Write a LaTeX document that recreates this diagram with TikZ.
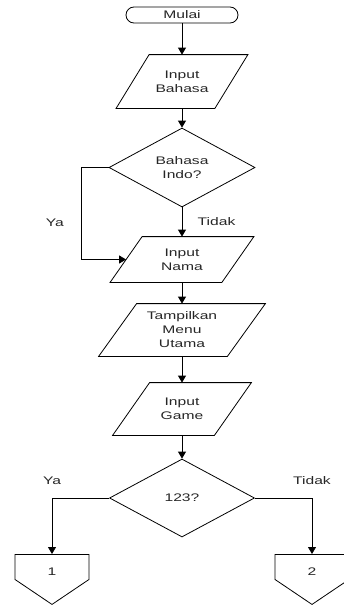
\documentclass[tikz,border=0pt]{standalone}
\usepackage{fontspec}
\setmainfont{Liberation Sans}[FakeStretch=1.42]
\usetikzlibrary{shapes.geometric,shapes.symbols,arrows.meta}

\begin{document}
\begin{tikzpicture}[x=1pt,y=-1pt,line width=0.8pt,
    font=\fontsize{11}{14}\selectfont,
    every node/.style={align=center,text=black!85},
    terminal/.style={draw,rounded corners=8pt,minimum width=112pt,minimum height=16pt,inner sep=0pt},
    io/.style={rectangle,inner sep=0pt},
    decision/.style={draw,diamond,inner sep=0pt,minimum width=146pt,minimum height=79pt},
    offpage/.style={draw,signal,signal to=south,signal pointer angle=112,minimum width=74pt,minimum height=28pt,inner sep=0pt,text height=18pt,text depth=0pt},
    flow/.style={-{Triangle[length=7pt,width=8pt]}}]
    \useasboundingbox (0,0) rectangle (344,608);

    \node[terminal] (mulai) at (182,15) {Mulai};
    \node[io,minimum width=98pt,minimum height=53pt] (inbahasa) at (182,81.5) {Input\\Bahasa};
    \node[decision] (indo) at (182,167.5) {Bahasa\\Indo?};
    \node[io,minimum width=111pt,minimum height=45pt] (innama) at (182,259.5) {Input\\Nama};
    \node[io,minimum width=128pt,minimum height=52pt] (menu) at (182,330) {Tampilkan\\Menu\\Utama};
    \node[io,minimum width=101pt,minimum height=52pt] (ingame) at (182,409) {Input\\Game};
    \node[decision,minimum width=145pt,minimum height=78pt] (pilih) at (182,498) {123?};
    \node[offpage,anchor=north] (satu) at (52,554) {1};
    \node[offpage,anchor=north] (dua) at (312,554) {2};

    \foreach \n/\s in {inbahasa/16.5,innama/16,menu/19,ingame/18.5}
        \draw ([xshift=\s pt]\n.north west) -- ([xshift=\s pt]\n.north east)
            -- ([xshift=-\s pt]\n.south east) -- ([xshift=-\s pt]\n.south west) -- cycle;

    \draw[flow] (mulai) -- (inbahasa);
    \draw[flow] (inbahasa) -- (indo);
    \draw[flow] (indo) -- node[right=12pt] {Tidak} (innama);
    \draw[flow] (indo.west) -- ++(-27,0) |- node[pos=0.3,left=14pt] {Ya} (innama.west);
    \draw[flow] (innama) -- (menu);
    \draw[flow] (menu) -- (ingame);
    \draw[flow] (ingame) -- (pilih);
    \draw[flow] (pilih.west) -| node[above=10pt] {Ya} (satu);
    \draw[flow] (pilih.east) -| node[above=10pt] {Tidak} (dua);
\end{tikzpicture}
\end{document}
